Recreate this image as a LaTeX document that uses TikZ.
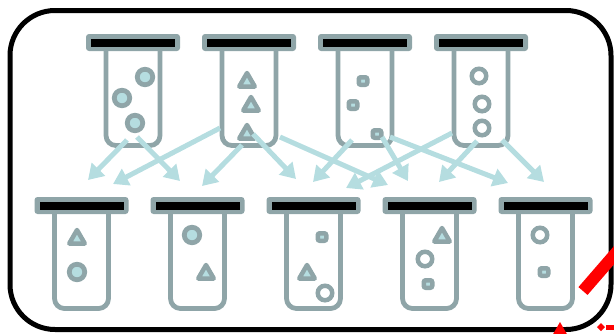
\documentclass[tikz,border=0pt]{standalone}
\usepackage{xcolor}
\usepackage{tikz}
\usetikzlibrary{arrows.meta, shapes.geometric}

\definecolor{tubegray}{RGB}{143,165,168}
\definecolor{fluid}{RGB}{181,221,224}

\tikzset{
  tube/.pic={
    \fill[tubegray, rounded corners=3] (-47,0) rectangle (47,17);
    \fill[black] (-42,5) rectangle (42,12.5);
    \draw[tubegray, line width=4.8, rounded corners=10] (-27,17) -- (-27,111.5) -- (27,111.5) -- (27,17);
    \coordinate (-c) at (0,0);
  }
}

\begin{document}
\begin{tikzpicture}[x=1pt, y=-1pt,
   dot/.style={circle, draw=tubegray, fill=fluid, line width=4.8, inner sep=0, minimum size=15.5},
   ring/.style={circle, draw=tubegray, fill=white, line width=4.5, inner sep=0, minimum size=14.5},
   tri/.style={regular polygon, regular polygon sides=3, draw=tubegray, fill=fluid, line width=4.5, line join=round, inner sep=0, minimum size=18},
   sq/.style={rectangle, rounded corners=2, draw=tubegray, fill=fluid, line width=4.5, inner sep=0, minimum width=8.5, minimum height=7.5},
   flow/.style={draw=fluid, line width=5, -{Triangle[length=15pt, width=18pt]}}]
  \useasboundingbox (0,0) rectangle (614,333);

  % tubes
  \foreach \n/\x in {1/133, 2/249, 3/365, 4/481}
    \pic (top\n) at (\x,34) {tube};
  \foreach \n/\x in {1/81.5, 2/197.5, 3/313.5, 4/429.5, 5/545.5}
    \pic (bot\n) at (\x,197) {tube};

  % top row contents
  \node[dot] (ta1) at (145,77) {};
  \node[dot] (ta2) at (122,98) {};
  \node[dot] (ta3) at (135,123) {};
  \node[tri] (tb1) at (247,82) {};
  \node[tri] (tb2) at (251,106) {};
  \node[tri] (tb3) at (247,134) {};
  \node[sq] (tc1) at (363,81) {};
  \node[sq] (tc2) at (353,105) {};
  \node[sq] (tc3) at (377,134) {};
  \node[ring] (td1) at (479,76) {};
  \node[ring] (td2) at (482,104) {};
  \node[ring] (td3) at (482,128) {};

  % bottom row contents
  \node[tri] (ba1) at (77,239) {};
  \node[dot] (ba2) at (77,272) {};
  \node[dot] (bb1) at (192,235) {};
  \node[tri] (bb2) at (206,274) {};
  \node[sq] (bc1) at (322,237) {};
  \node[tri] (bc2) at (307,274) {};
  \node[ring] (bc3) at (325,293) {};
  \node[tri] (bd1) at (442,237) {};
  \node[ring] (bd2) at (425,259) {};
  \node[sq] (bd3) at (428,284) {};
  \node[ring] (be1) at (540,235) {};
  \node[sq] (be2) at (544,272) {};

  % arrows
  \foreach \i/\sx/\sy/\ex/\ey in {1/127/140/88/180, 2/137/137/180/181, 3/220/128/113/184,
      4/242/145/202/186, 5/253/134/296/179, 6/280/137/388/185, 7/352/140/313/182,
      8/382/137/408/181, 9/390/137/508/183, 10/452/133/346/188, 11/477/141/439/182,
      12/502/140/544/182} {
    \coordinate (s\i) at (\sx,\sy);
    \coordinate (e\i) at (\ex,\ey);
    \draw[flow] (s\i) -- (e\i);
  }

  % frame
  \draw[line width=5, rounded corners=45] (10,10.5) rectangle (611,329.5);

  % red marks at the corner
  \coordinate (r1) at (583,291);
  \coordinate (r2) at (622,246);
  \draw[red, line width=12] (r1) -- (r2);
  \fill[red] (552,336) -- (568,336) -- (560,322) -- cycle;
  \fill[red] (597,327) -- (601,323) -- (605,327) -- (601,331) -- cycle;
  \fill[red] (606,325) rectangle (616,329.5);
\end{tikzpicture}
\end{document}
